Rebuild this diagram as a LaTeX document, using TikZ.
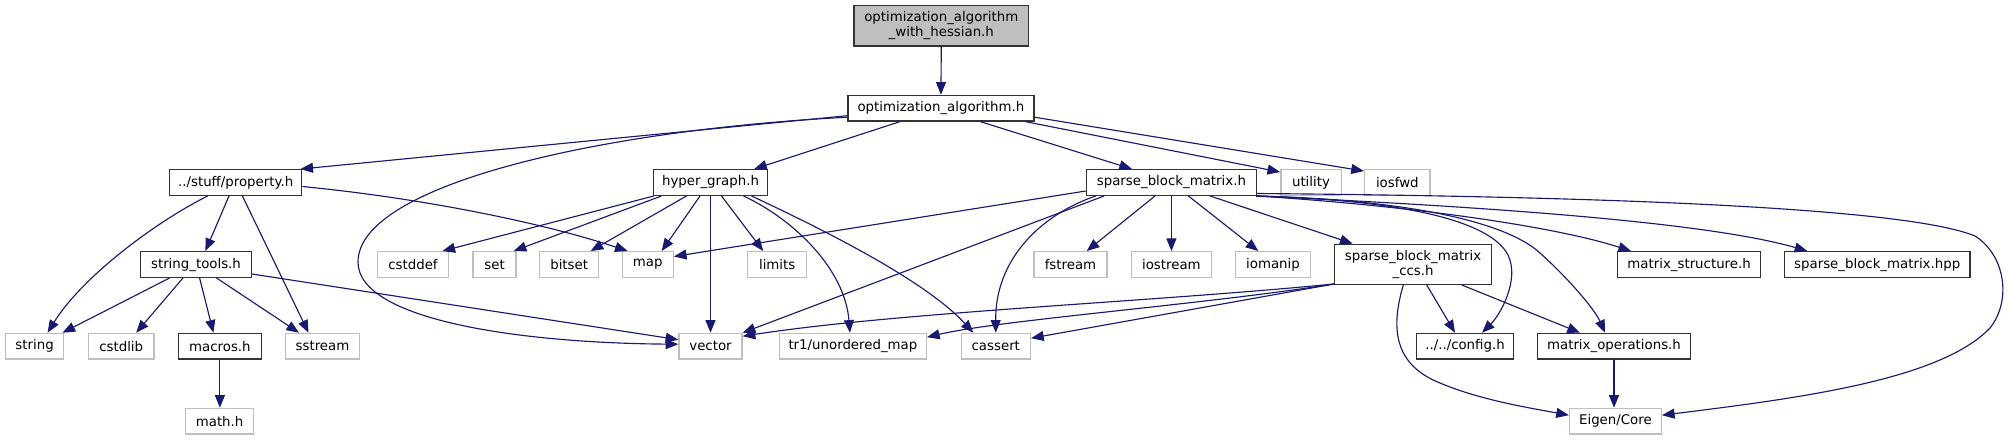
\documentclass[tikz,border=0pt]{standalone}
\usepackage{fontspec}
\setmainfont{DejaVu Sans}
\usetikzlibrary{arrows.meta,calc}
\definecolor{edgecol}{HTML}{191970}
\definecolor{gfill}{HTML}{BFBFBF}
\definecolor{dborder}{HTML}{333333}
\begin{document}
\begin{tikzpicture}[x=0.75pt,y=-0.75pt,
  base/.style={rectangle,inner sep=0pt,line width=1pt,minimum height=25.6*0.75pt,
    font=\fontsize{10pt}{11.25pt}\selectfont,align=center,fill=white},
  dbox/.style={base,draw=dborder},
  gbox/.style={base,draw=gfill},
  bw/.style={minimum width=#1*0.75pt},
  bh/.style={minimum height=#1*0.75pt},
  edg/.style={draw=edgecol,line width=0.85pt,-{Triangle[length=9.5pt,width=7.5pt]}}]
\useasboundingbox (0,0) rectangle (2008,440);
% level 1-2
\node[dbox,bw=174.6,bh=40.3,fill=gfill] (top) at (941.3,25.8) {optimization\_algorithm\\\_with\_hessian.h};
\node[dbox,bw=186] (opt) at (940.9,108.2) {optimization\_algorithm.h};
% level 3
\node[dbox,bw=132] (prop) at (235.7,182.5) {../stuff/property.h};
\node[dbox,bw=114] (hyper) at (710.5,182.5) {hyper\_graph.h};
\node[dbox,bw=170] (sbm) at (1171.4,182.5) {sparse\_block\_matrix.h};
\node[gbox,bw=60.3] (utility) at (1311,182.5) {utility};
\node[gbox,bw=65.4] (iosfwd) at (1397.3,182.5) {iosfwd};
% level 4
\node[dbox,bw=110.7] (stools) at (196,264.5) {string\_tools.h};
\node[gbox,bw=70.5] (cstddef) at (413,264.5) {cstddef};
\node[gbox,bw=42.9] (set) at (494.6,264.5) {set};
\node[gbox,bw=58.9] (bitset) at (569.2,264.5) {bitset};
\node[gbox,bw=50.9] (map) at (647.8,264.5) {map};
\node[gbox,bw=58.9] (limits) at (777.2,264.5) {limits};
\node[gbox,bw=73.2] (fstream) at (1070.5,264.5) {fstream};
\node[gbox,bw=80.4] (iostream) at (1171.4,264.5) {iostream};
\node[gbox,bw=74.6] (iomanip) at (1273,264.5) {iomanip};
\node[dbox,bw=156.6,bh=40] (ccs) at (1413.1,264.3) {sparse\_block\_matrix\\\_ccs.h};
\node[dbox,bw=142.7] (mstruct) at (1689.1,264.5) {matrix\_structure.h};
\node[dbox,bw=185.6] (hpp) at (1877.2,264.5) {sparse\_block\_matrix.hpp};
% level 5
\node[gbox,bw=58.4] (string) at (34.6,346.2) {string};
\node[gbox,bw=65.6] (cstdlib) at (121.2,346.2) {cstdlib};
\node[dbox,bw=82.6] (macros) at (219.9,346.2) {macros.h};
\node[gbox,bw=74.5] (sstream) at (322.5,346.2) {sstream};
\node[gbox,bw=63] (vector) at (710.5,346.2) {vector};
\node[gbox,bw=146.8] (tr1) at (852.9,346.2) {tr1/unordered\_map};
\node[gbox,bw=69.2] (cassert) at (995.8,346.2) {cassert};
\node[dbox,bw=97] (config) at (1465,346.2) {../../config.h};
\node[dbox,bw=153] (matops) at (1614,346.2) {matrix\_operations.h};
% level 6
\node[gbox,bw=67.9] (math) at (219.6,421.2) {math.h};
\node[gbox,bw=91.7] (eigen) at (1615.4,421.2) {Eigen/Core};
% edges
\draw[edg] (top.south) -- (opt.north);
\draw[edg] ($(opt.west)+(0,7.5)$) -- ($(prop.north east)+(-2,0)$);
\draw[edg] ($(opt.west)+(0,9)$) .. controls (600,130) and (358,185) .. (358,262)
  .. controls (358,320) and (520,343) .. ($(vector.west)+(0,-2)$);
\draw[edg] ($(opt.south)+(-41,0)$) -- ($(hyper.north east)+(-14,0)$);
\draw[edg] ($(opt.south)+(39.5,0)$) -- ($(sbm.north)+(-39.4,0)$);
\draw[edg] ($(opt.south east)+(-9,0)$) -- ($(utility.north west)+(0,3)$);
\draw[edg] ($(opt.east)+(0,9)$) -- ($(iosfwd.north west)+(0,2)$);
% property
\draw[edg] ($(prop.south)+(-28,0)$) .. controls (150,225) and (80,280) .. ($(string.north)+(13,0)$);
\draw[edg] ($(prop.south)+(-6.7,0)$) -- ($(stools.north)+(9.4,0)$);
\draw[edg] ($(prop.south)+(6.7,0)$) -- ($(sstream.north)+(-14,0)$);
\draw[edg] ($(prop.east)+(0,4)$) .. controls (420,198) and (540,222) .. ($(map.north west)+(6,0)$);
% string_tools
\draw[edg] ($(stools.south)+(-26.4,0)$) -- ($(string.north east)+(-2,0)$);
\draw[edg] ($(stools.south)+(-13,0)$) -- ($(cstdlib.north)+(15,0)$);
\draw[edg] ($(stools.south)+(3.6,0)$) -- ($(macros.north)+(-6.5,0)$);
\draw[edg] ($(stools.south)+(20.5,0)$) -- ($(sstream.north)+(-23.5,0)$);
\draw[edg] ($(stools.east)+(0,9.5)$) -- ($(vector.west)+(0,-6.5)$);
\draw[edg] (macros.south) -- (macros.south |- math.north);
% hyper_graph
\draw[edg] ($(hyper.south west)+(1,0)$) -- ($(cstddef.north east)+(-6.5,0)$);
\draw[edg] ($(hyper.south)+(-49,0)$) -- ($(set.north east)+(-3,0)$);
\draw[edg] ($(hyper.south)+(-24,0)$) -- ($(bitset.north east)+(-8.7,0)$);
\draw[edg] ($(hyper.south)+(-10.5,0)$) -- ($(map.north)+(13.9,0)$);
\draw[edg] (hyper.south) -- (vector.north);
\draw[edg] ($(hyper.south)+(11,0)$) -- ($(limits.north)+(-14,0)$);
\draw[edg] ($(hyper.south)+(33,0)$) .. controls (795,220) and (845,270) .. ($(tr1.north)+(-3,0)$);
\draw[edg] ($(hyper.south)+(41,0)$) .. controls (820,228) and (925,280) .. ($(cassert.north)+(-22.5,0)$);
% sparse_block_matrix
\draw[edg] ($(sbm.west)+(0,8.5)$) -- ($(map.east)+(0,-8)$);
\draw[edg] ($(sbm.south west)+(18.4,0)$) -- (vector.north east);
\draw[edg] ($(sbm.south west)+(10,0)$) .. controls (1040,215) and (995,260) .. (cassert.north);
\draw[edg] ($(sbm.south)+(-16.4,0)$) -- ($(fstream.north)+(16.2,0)$);
\draw[edg] (sbm.south) -- (iostream.north);
\draw[edg] ($(sbm.south)+(17,0)$) -- ($(iomanip.north)+(-14.7,0)$);
\draw[edg] ($(sbm.south)+(38.6,0)$) -- ($(ccs.north west)+(18.5,0)$);
\draw[edg] ($(sbm.south east)+(-1,0)$) .. controls (1400,200) and (1490,220) .. (1508,255)
  .. controls (1520,280) and (1500,315) .. ($(config.north)+(17,0)$);
\draw[edg] ($(sbm.south east)+(-1,0)$) .. controls (1420,200) and (1510,225) .. (1540,253)
  .. controls (1570,280) and (1595,310) .. ($(matops.north)+(-9,0)$);
\draw[edg] ($(sbm.south east)+(-1,0)$) .. controls (1400,205) and (1550,225) .. ($(mstruct.north west)+(14,0)$);
\draw[edg] ($(sbm.south east)+(-1,0)$) .. controls (1450,205) and (1700,220) .. ($(hpp.north west)+(23.6,0)$);
\draw[edg] ($(sbm.east)+(0,11)$) .. controls (1550,196) and (1900,205) .. (1975,236)
  .. controls (2005,255) and (2012,300) .. (1990,328)
  .. controls (1940,380) and (1800,398) .. ($(eigen.east)+(0,-6)$);
% sparse_block_matrix_ccs
\draw[edg] ($(ccs.south west)+(0,-1)$) .. controls (1150,302) and (900,312) .. ($(vector.north east)+(0,3.5)$);
\draw[edg] ($(ccs.south west)+(0,-1)$) .. controls (1200,305) and (1000,320) .. ($(tr1.east)+(0,-9)$);
\draw[edg] ($(ccs.south west)+(0,-1)$) -- ($(cassert.east)+(0,-8)$);
\draw[edg] ($(ccs.south)+(13.6,0)$) -- ($(config.north)+(-10,0)$);
\draw[edg] ($(ccs.south)+(48.6,0)$) -- ($(matops.north)+(-34,0)$);
\draw[edg] ($(ccs.south)+(-9.8,0)$) .. controls (1390,330) and (1395,365) .. (1440,383)
  .. controls (1480,400) and (1530,408) .. ($(eigen.west)+(0,-6)$);
\draw[edg] (matops.south) -- (matops.south |- eigen.north);
\end{tikzpicture}
\end{document}
